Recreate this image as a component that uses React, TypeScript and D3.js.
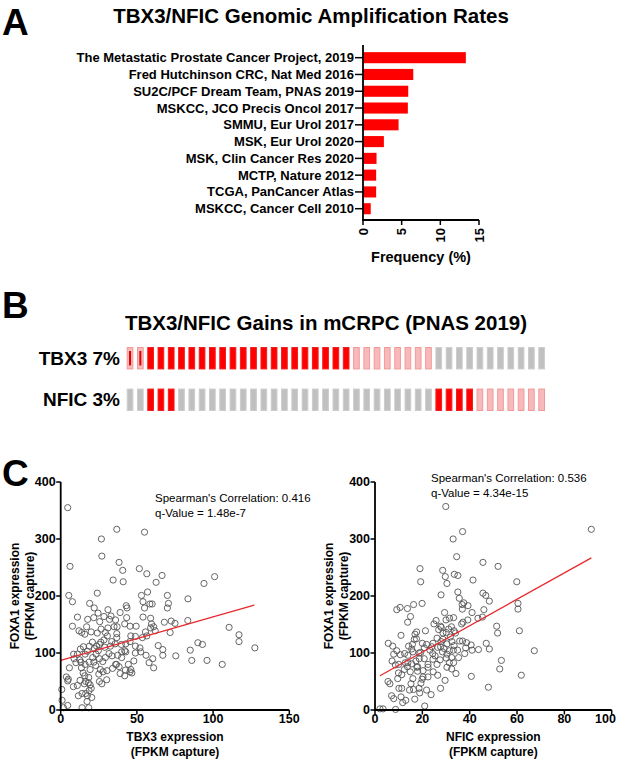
import React from 'react';
import * as d3 from 'd3';

// panel A
const studies = [
  'The Metastatic Prostate Cancer Project, 2019',
  'Fred Hutchinson CRC, Nat Med 2016',
  'SU2C/PCF Dream Team, PNAS 2019',
  'MSKCC, JCO Precis Oncol 2017',
  'SMMU, Eur Urol 2017',
  'MSK, Eur Urol 2020',
  'MSK, Clin Cancer Res 2020',
  'MCTP, Nature 2012',
  'TCGA, PanCancer Atlas',
  'MSKCC, Cancer Cell 2010',
];
const ampFreq = [13.3, 6.5, 5.85, 5.8, 4.6, 2.7, 1.75, 1.7, 1.7, 1.0];
const freqTicks = [0, 5, 10, 15];

// panel B, one code per sample
const oncoGenes = ['TBX3 7%', 'NFIC 3%'];
const tbx3Status = [
  'low', 'low',
  'amp', 'amp', 'amp', 'amp', 'amp', 'amp', 'amp', 'amp', 'amp', 'amp',
  'amp', 'amp', 'amp', 'amp', 'amp', 'amp', 'amp', 'amp', 'amp', 'amp',
  'gain', 'gain', 'gain', 'gain', 'gain', 'gain', 'gain', 'gain',
  'none', 'none', 'none', 'none', 'none', 'none', 'none', 'none', 'none', 'none', 'none',
];
const nficStatus = [
  'none', 'none',
  'amp', 'amp', 'amp',
  'none', 'none', 'none', 'none', 'none', 'none', 'none', 'none', 'none', 'none',
  'none', 'none', 'none', 'none', 'none', 'none', 'none', 'none', 'none', 'none',
  'none', 'none', 'none', 'none', 'none',
  'amp', 'amp', 'amp', 'amp',
  'gain', 'gain', 'gain', 'gain', 'gain', 'gain', 'gain',
];

// panel C
const foxa1Ticks = [0, 100, 200, 300, 400];
const tbx3Ticks = [0, 50, 100, 150];
const nficTicks = [0, 20, 40, 60, 80, 100];

const tbx3Foxa1: [number, number][] = [
  [4.6, 355], [36.8, 317], [55, 312], [26.7, 300], [27, 270], [6.1, 252], [38.3, 259], [40.7, 245],
  [51.6, 248], [56.5, 239], [34.4, 228], [41, 225], [66.5, 236], [62.6, 224], [94, 222], [101, 234],
  [5.3, 201], [7.7, 190], [24, 205], [57, 207], [53, 201], [70, 201], [83.5, 195], [19, 187],
  [22, 179], [31, 176], [24.5, 170], [39, 171], [43, 183], [43.5, 179], [54, 190], [55, 179],
  [58.5, 186], [60, 186], [70.7, 187], [70, 179], [11, 163], [17.7, 159], [21.7, 162], [28.4, 164],
  [32, 159], [37, 146], [42, 151], [54, 163], [59, 161], [59.6, 151], [61, 146], [68, 154],
  [72.5, 156], [75, 152], [83.4, 157], [7.7, 147], [12, 139], [13.8, 136], [15.8, 133], [17, 146],
  [20, 137], [24, 135], [26.5, 142], [31, 144], [36.8, 134], [36.8, 127], [46, 130], [49, 129],
  [53.6, 127], [56.5, 130], [59, 144], [62, 139], [71.8, 136], [110.5, 145], [117, 132], [117, 120],
  [127.4, 109], [90, 118], [93, 115], [85, 105], [86, 87], [96, 87], [106, 80], [75.5, 95],
  [64, 113], [67, 106], [67, 96], [60.4, 90], [61, 74], [58, 83], [56, 96], [52, 109],
  [52.5, 102], [49, 112], [49, 100], [45.5, 120], [42.7, 116], [42, 104], [42.7, 102], [44.4, 80],
  [45.5, 67], [46, 71], [42, 60], [39, 64], [36.6, 80], [36, 80], [38.3, 76], [33.7, 95],
  [37.4, 96], [40, 102], [39.8, 115], [35.7, 116], [32.6, 112], [33.5, 120], [28.4, 123], [26.3, 119],
  [25.4, 115], [23.6, 112], [22, 108], [20.8, 119], [18.8, 112], [17.5, 103], [14.9, 111], [12.9, 107],
  [11, 98], [12.5, 88], [10, 83], [8.5, 98], [8.8, 90], [5.7, 74], [3.7, 58], [5, 54],
  [4.6, 51], [0.7, 36], [0.9, 17], [4.6, 8], [1.8, 4], [13.6, 74], [16, 80], [18.6, 84],
  [19.3, 71], [15.8, 60], [18.4, 57], [16.4, 50], [18.2, 48], [19.3, 44], [15.5, 46], [20, 38],
  [18.6, 34], [16.4, 29], [14, 29], [17.5, 25], [20.4, 22], [17.3, 15], [18.4, 4], [14, 4],
  [11.6, 25], [8.3, 41], [10.9, 43], [12.7, 52], [14.7, 65], [13.3, 84], [16, 98], [21, 92],
  [24.7, 104], [25.4, 90], [26, 71], [25, 63], [25.4, 50], [27, 46], [27.8, 67], [30.2, 53],
  [30.4, 69], [34, 73], [31.7, 99], [29.3, 92], [27.6, 85], [23, 78], [21.7, 84], [23.2, 98],
  [28.9, 110], [30.6, 130], [29.3, 136], [33, 165], [35, 146], [25.6, 155], [45.5, 147], [36, 158],
  [43.3, 162], [49.5, 147], [55.6, 137], [48, 86], [46.7, 65], [42.5, 70], [40, 92],
];

const nficFoxa1: [number, number][] = [
  [29.9, 357], [91.4, 317], [37, 313], [33, 300], [34.5, 269], [45.6, 259], [52, 252], [19, 248],
  [28.6, 245], [33.5, 238], [35, 236], [29.7, 234], [41.4, 228], [19.3, 225], [30.4, 222], [59.9, 225],
  [45.6, 205], [46.8, 201], [27.9, 202], [35, 207], [35.6, 196], [48.3, 191], [60.4, 187], [60.4, 177],
  [46, 176], [10.6, 180], [9.2, 176], [13.7, 178], [16.3, 185], [19.9, 187], [15, 164], [13.8, 154],
  [36.8, 185], [37.5, 188], [39.3, 183], [36.9, 177], [29.4, 171], [33.2, 162], [31.5, 161], [41, 171],
  [43.5, 161], [45.4, 163], [39.2, 158], [37.2, 154], [36.6, 151], [30, 158], [25.8, 157], [24.9, 151],
  [27.7, 147], [32.3, 146], [31.1, 142], [30.1, 136], [28.7, 135], [33.4, 139], [34, 135], [51.4, 147],
  [51.8, 135], [61, 139], [21.3, 139], [17.6, 137], [16.9, 133], [17.5, 125], [16.6, 124], [11, 131],
  [26.2, 126], [27.9, 120], [31.8, 128], [32.5, 120], [37, 121], [38.7, 118], [40.6, 114], [38.3, 109],
  [41, 105], [43.7, 106], [47, 117], [48.3, 107], [67.3, 104], [53.4, 87], [52.7, 72], [61.8, 61],
  [47.9, 40], [40.7, 59], [34.2, 64], [35.3, 92], [37.9, 99], [34.9, 105], [33.1, 105], [31.4, 104],
  [30.4, 98], [30.1, 91], [32.4, 92], [33.2, 83], [31.4, 83], [30.4, 75], [32.4, 72], [27.5, 88],
  [26.2, 80], [24.5, 89], [25.4, 95], [24.4, 99], [24, 111], [23.2, 105], [24.5, 117], [21.8, 115],
  [20, 117], [20.8, 109], [19.3, 101], [18.7, 90], [20.8, 90], [22.4, 80], [22.4, 75], [20.3, 69],
  [20.3, 58], [22.4, 58], [19.9, 54], [21.8, 35], [23.7, 27], [21, 7], [27.7, 38], [26.5, 61],
  [24.6, 67], [18, 68], [18, 76], [17.3, 86], [15.5, 81], [14.9, 67], [16, 55], [15.2, 46],
  [14.6, 35], [16.3, 36], [16.8, 19], [13, 17], [11.7, 13], [11, 23], [7.9, 20], [7, 25],
  [5.5, 50], [6.3, 46], [9.6, 55], [10.1, 38], [11.3, 38], [11.3, 62], [12.4, 71], [13.7, 76],
  [12.8, 83], [10, 80], [8.6, 79], [9.9, 65], [7.9, 98], [7.2, 86], [5.6, 117], [7.5, 112],
  [9.2, 104], [10.7, 97], [12.5, 99], [13.9, 96], [13.9, 83], [16, 102], [18.6, 100], [15.5, 107],
  [15.8, 115], [14.2, 112], [2.1, 2], [3.4, 2], [8.7, 1], [28, 145], [26.9, 141], [28.7, 124],
  [30.4, 116], [33.4, 113], [35.8, 121], [26.5, 110], [27.7, 111], [29.2, 108], [28.5, 102], [19.4, 47],
  [18.6, 38], [18.9, 30], [17.7, 75], [29.6, 52],
];

const tbx3Fit: [number, number][] = [[0, 87], [127, 184]];
const nficFit: [number, number][] = [[2.1, 60], [91.4, 267]];

const FONT = "'Liberation Sans', Arial, Helvetica, sans-serif";
const W = 617;
const H = 760;

const cellFill: Record<string, string> = { amp: '#ff0000', gain: '#f7b9b9', low: '#f7b9b9', none: '#c0c0c0' };
const cellStroke: Record<string, string> = { amp: '#f02020', gain: '#f29a9a', low: '#f29a9a', none: '#cdcdcd' };

const PanelLetter = ({ y, label }: { y: number; label: string }) => (
  <text x={2} y={y} fontSize={37} fontWeight="bold" fontFamily={FONT}>{label}</text>
);

const BarPanel = () => {
  const x = d3.scaleLinear().domain([0, 15]).range([363, 479]);
  const y = d3.scaleBand().domain(studies).range([49.3, 217.1]).paddingInner(0.34).paddingOuter(0.17);
  const axisY = 220;
  return (
    <g>
      <PanelLetter y={35} label="A" />
      <text x={311} y={23} textAnchor="middle" fontSize={20.5} fontWeight="bold" fontFamily={FONT}>
        TBX3/NFIC Genomic Amplification Rates
      </text>
      {studies.map((s, i) => (
        <g key={s}>
          <rect x={x(0)} y={y(s)} width={x(ampFreq[i]) - x(0)} height={y.bandwidth()} fill="#ff0000" />
          <line x1={x(0) - 8} x2={x(0)} y1={y(s)! + y.bandwidth() / 2} y2={y(s)! + y.bandwidth() / 2} stroke="#000" strokeWidth={1.5} />
          <text x={x(0) - 9} y={y(s)! + y.bandwidth() / 2} dy="0.35em" textAnchor="end" fontSize={13} fontWeight="bold" fontFamily={FONT}>{s}</text>
        </g>
      ))}
      <line x1={x(0)} x2={x(0)} y1={45} y2={axisY + 0.75} stroke="#000" strokeWidth={1.8} />
      <line x1={x(0) - 0.9} x2={x(15)} y1={axisY} y2={axisY} stroke="#000" strokeWidth={1.8} />
      {freqTicks.map((t) => (
        <g key={t}>
          <line x1={x(t)} x2={x(t)} y1={axisY} y2={axisY + 5} stroke="#000" strokeWidth={1.5} />
          <text transform={`translate(${x(t)},${axisY + 8}) rotate(-90)`} dy="0.35em" textAnchor="end" fontSize={13} fontWeight="bold" fontFamily={FONT}>{t}</text>
        </g>
      ))}
      <text x={421} y={262} textAnchor="middle" fontSize={14.5} fontWeight="bold" fontFamily={FONT}>Frequency (%)</text>
    </g>
  );
};

const OncoPanel = () => {
  const idx = d3.range(tbx3Status.length);
  const x = d3.scaleBand<number>().domain(idx).range([126.7, 545]).paddingInner(0.35);
  const rows = [tbx3Status, nficStatus];
  const y = d3.scaleBand<number>().domain([0, 1]).range([347, 411]).paddingInner(0.46);
  return (
    <g>
      <PanelLetter y={318} label="B" />
      <text x={326} y={330} textAnchor="middle" fontSize={20.5} fontWeight="bold" fontFamily={FONT}>
        TBX3/NFIC Gains in mCRPC (PNAS 2019)
      </text>
      {rows.map((row, r) => (
        <g key={r}>
          <text x={120} y={y(r)! + y.bandwidth() / 2} dy="0.35em" textAnchor="end" fontSize={19} fontWeight="bold" fontFamily={FONT}>{oncoGenes[r]}</text>
          {row.map((s, i) => (
            <g key={i}>
              <rect x={x(i)! + 0.5} y={y(r)! + 0.5} width={x.bandwidth() - 1} height={y.bandwidth() - 1}
                fill={cellFill[s]} stroke={cellStroke[s]} strokeWidth={1} />
              {s === 'low' && (
                <rect x={x(i)! + x.bandwidth() / 2 - 1} y={y(r)! + 4} width={2} height={y.bandwidth() - 8} fill="#e00000" />
              )}
            </g>
          ))}
        </g>
      ))}
    </g>
  );
};

type ScatterProps = {
  left: number; right: number; xMax: number; xTicks: number[];
  points: [number, number][]; fit: [number, number][];
  xLabel: string; stats: string[]; statsX: number; statsY: number;
};

const Scatter = ({ left, right, xMax, xTicks, points, fit, xLabel, stats, statsX, statsY }: ScatterProps) => {
  const x = d3.scaleLinear().domain([0, xMax]).range([left, right]);
  const y = d3.scaleLinear().domain([0, 400]).range([710, 482]);
  const line = d3.line<[number, number]>().x((d) => x(d[0])).y((d) => y(d[1]));
  const midY = (y(0) + y(400)) / 2;
  return (
    <g fontFamily={FONT}>
      {points.map((p, i) => (
        <circle key={i} cx={x(p[0])} cy={y(p[1])} r={3.1} fill="none" stroke="#555" strokeWidth={0.9} />
      ))}
      <path d={line(fit)!} stroke="#e8282c" strokeWidth={1.3} fill="none" />
      <line x1={left} x2={left} y1={y(400)} y2={y(0) + 0.9} stroke="#000" strokeWidth={1.8} />
      <line x1={left - 0.9} x2={right} y1={y(0)} y2={y(0)} stroke="#000" strokeWidth={1.8} />
      {foxa1Ticks.map((t) => (
        <g key={t}>
          <line x1={left - 4.5} x2={left} y1={y(t)} y2={y(t)} stroke="#000" strokeWidth={1.5} />
          <text x={left - 5} y={y(t)} dy="0.35em" textAnchor="end" fontSize={12.5} fontWeight="bold">{t}</text>
        </g>
      ))}
      {xTicks.map((t) => {
        // keep the last label inside the page
        const tx = Math.min(x(t), W - 11.5);
        return (
          <g key={t}>
            <line x1={x(t)} x2={x(t)} y1={y(0)} y2={y(0) + 4.5} stroke="#000" strokeWidth={1.5} />
            <text x={tx} y={723} textAnchor="middle" fontSize={12.5} fontWeight="bold">{t}</text>
          </g>
        );
      })}
      <text x={(left + right) / 2} y={741} textAnchor="middle" fontSize={12} fontWeight="bold">{xLabel}</text>
      <text x={(left + right) / 2} y={756} textAnchor="middle" fontSize={12} fontWeight="bold">(FPKM capture)</text>
      <text transform={`translate(${left - 42},${midY}) rotate(-90)`} textAnchor="middle" fontSize={12} fontWeight="bold">FOXA1 expression</text>
      <text transform={`translate(${left - 27},${midY}) rotate(-90)`} textAnchor="middle" fontSize={12} fontWeight="bold">(FPKM capture)</text>
      {stats.map((s, i) => (
        <text key={s} x={statsX} y={statsY + i * 15} fontSize={11.5}>{s}</text>
      ))}
    </g>
  );
};

export default function App() {
  return (
    <svg width={W} height={H} style={{ display: 'block', position: 'absolute', left: 0, top: 0 }}>
      <rect width={W} height={H} fill="#fff" />
      <BarPanel />
      <OncoPanel />
      <PanelLetter y={486} label="C" />
      <Scatter left={60.7} right={289.3} xMax={150} xTicks={tbx3Ticks} points={tbx3Foxa1} fit={tbx3Fit}
        xLabel="TBX3 expression" stats={["Spearman's Correlation: 0.416", 'q-Value = 1.48e-7']} statsX={155} statsY={502} />
      <Scatter left={375} right={611.7} xMax={100} xTicks={nficTicks} points={nficFoxa1} fit={nficFit}
        xLabel="NFIC expression" stats={["Spearman's Correlation: 0.536", 'q-Value = 4.34e-15']} statsX={431} statsY={482} />
    </svg>
  );
}
